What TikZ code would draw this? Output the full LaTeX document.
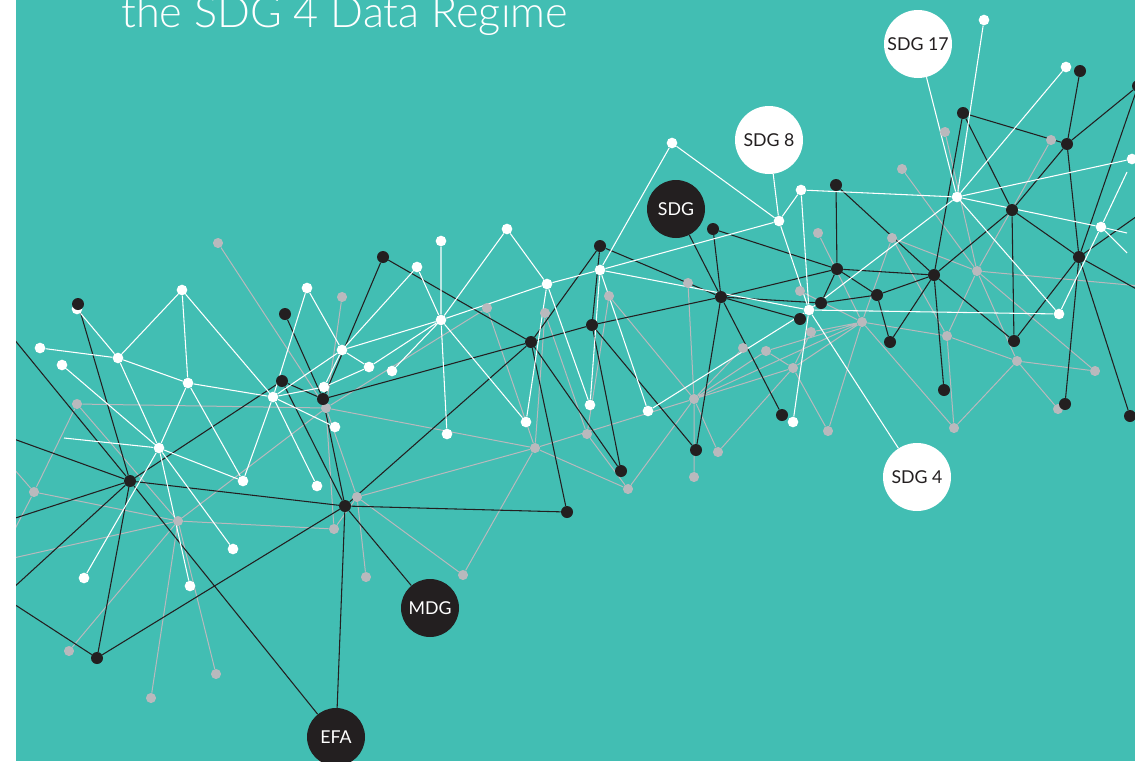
\documentclass[tikz,border=0pt]{standalone}
\usepackage{fontspec}
\setmainfont{Lato}
\newfontfamily\titlefont{Lato Light}
\usepackage{graphicx}
\definecolor{teal1}{RGB}{66,190,179}
\definecolor{dk}{RGB}{35,31,32}
\definecolor{gr}{RGB}{185,185,189}
\pgfdeclarelayer{bgl}
\pgfdeclarelayer{ge}
\pgfdeclarelayer{be}
\pgfdeclarelayer{we}
\pgfsetlayers{bgl,ge,be,we,main}
\tikzset{
  wd/.style={circle,fill=white,inner sep=0,minimum size=8pt},
  bd/.style={circle,fill=dk,inner sep=0,minimum size=9pt},
  gd/.style={circle,fill=gr,inner sep=0,minimum size=7.6pt},
  gl/.style={draw=gr,line width=0.75pt},
  bl/.style={draw=dk,line width=0.8pt},
  wl/.style={draw=white,line width=0.8pt},
  lblk/.style={circle,fill=dk,text=white,inner sep=0,minimum size=43.5pt,font=\fontsize{13.3}{13.3}\selectfont},
  lwht/.style={circle,fill=white,text=dk,inner sep=0,minimum size=51pt,font=\fontsize{13.3}{13.3}\selectfont},
}
\begin{document}
\begin{tikzpicture}[x=0.75pt,y=-0.75pt]
\useasboundingbox (0,0) rectangle (1135,761);
\begin{pgfonlayer}{bgl}
\fill[teal1] (0,0) rectangle (1135,761);
\end{pgfonlayer}
% white nodes
\node[wd] (w1) at (77,309) {};
\node[wd] (w2) at (40,348) {};
\node[wd] (w3) at (118,358) {};
\node[wd] (w4) at (62,365) {};
\node[wd] (w5) at (182,290) {};
\node[wd] (w6) at (188,383) {};
\node[wd] (w7) at (159,448) {};
\node[wd] (w8) at (243,481) {};
\node[wd] (w9) at (273,397) {};
\node[wd] (w10) at (307,288) {};
\node[wd] (w11) at (342,350) {};
\node[wd] (w12) at (324,387) {};
\node[wd] (w13) at (369,367) {};
\node[wd] (w14) at (335,427) {};
\node[wd] (w15) at (317,486) {};
\node[wd] (w16) at (84,578) {};
\node[wd] (w17) at (190,586) {};
\node[wd] (w18) at (233,549) {};
\node[wd] (w19) at (441,241) {};
\node[wd] (w20) at (417,267) {};
\node[wd] (w21) at (441,320) {};
\node[wd] (w22) at (392,371) {};
\node[wd] (w23) at (447,434) {};
\node[wd] (w24) at (507,229) {};
\node[wd] (w25) at (547,284) {};
\node[wd] (w26) at (526,422) {};
\node[wd] (w27) at (600,270) {};
\node[wd] (w28) at (590,405) {};
\node[wd] (w29) at (648,411) {};
\node[wd] (w30) at (672,143) {};
\node[wd] (w31) at (779,221) {};
\node[wd] (w32) at (801,190) {};
\node[wd] (w33) at (809,310) {};
\node[wd] (w34) at (793,422) {};
\node[wd] (w35) at (957,197) {};
\node[wd] (w36) at (984,20) {};
\node[wd] (w37) at (1066,67) {};
\node[wd] (w38) at (1132,159) {};
\node[wd] (w39) at (1101,227) {};
\node[wd] (w40) at (1059,314) {};
\coordinate (wf1) at (64,438);
\coordinate (wf2) at (1127,172);
\coordinate (wf3) at (1127,253);
\coordinate (wf4) at (1127,233);
% gray nodes
\node[gd] (g1) at (218,243) {};
\node[gd] (g2) at (342,297) {};
\node[gd] (g3) at (77,404) {};
\node[gd] (g4) at (326,408) {};
\node[gd] (g5) at (34,492) {};
\node[gd] (g6) at (178,521) {};
\node[gd] (g7) at (357,497) {};
\node[gd] (g8) at (334,529) {};
\node[gd] (g9) at (366,577) {};
\node[gd] (g10) at (463,575) {};
\node[gd] (g11) at (69,651) {};
\node[gd] (g12) at (216,674) {};
\node[gd] (g13) at (151,698) {};
\node[gd] (g14) at (487,308) {};
\node[gd] (g15) at (545,313) {};
\node[gd] (g16) at (609,296) {};
\node[gd] (g17) at (535,448) {};
\node[gd] (g18) at (587,434) {};
\node[gd] (g19) at (628,489) {};
\node[gd] (g20) at (694,399) {};
\node[gd] (g21) at (694,477) {};
\node[gd] (g22) at (688,283) {};
\node[gd] (g23) at (718,452) {};
\node[gd] (g24) at (743,348) {};
\node[gd] (g25) at (766,351) {};
\node[gd] (g26) at (793,368) {};
\node[gd] (g27) at (811,332) {};
\node[gd] (g28) at (800,291) {};
\node[gd] (g29) at (818,233) {};
\node[gd] (g30) at (828,431) {};
\node[gd] (g31) at (862,322) {};
\node[gd] (g32) at (892,238) {};
\node[gd] (g33) at (902,169) {};
\node[gd] (g34) at (945,132) {};
\node[gd] (g35) at (977,271) {};
\node[gd] (g36) at (1051,140) {};
\node[gd] (g37) at (947,336) {};
\node[gd] (g38) at (954,428) {};
\node[gd] (g39) at (1017,361) {};
\node[gd] (g40) at (1095,371) {};
\node[gd] (g41) at (1058,409) {};
\coordinate (gf1) at (0,453);
\coordinate (gf2) at (0,558);
\coordinate (gf3) at (0,561);
\coordinate (gf4) at (1140,286);
% black nodes
\node[bd] (b1) at (78,304) {};
\node[bd] (b2) at (130,481) {};
\node[bd] (b3) at (97,658) {};
\node[bd] (b4) at (285,314) {};
\node[bd] (b5) at (282,381) {};
\node[bd] (b6) at (323,399) {};
\node[bd] (b7) at (345,506) {};
\node[bd] (b8) at (383,257) {};
\node[bd] (b9) at (531,342) {};
\node[bd] (b10) at (567,512) {};
\node[bd] (b11) at (600,246) {};
\node[bd] (b12) at (592,325) {};
\node[bd] (b13) at (621,471) {};
\node[bd] (b14) at (696,450) {};
\node[bd] (b15) at (713,229) {};
\node[bd] (b16) at (721,297) {};
\node[bd] (b17) at (782,415) {};
\node[bd] (b18) at (800,319) {};
\node[bd] (b19) at (821,303) {};
\node[bd] (b20) at (836,185) {};
\node[bd] (b21) at (837,269) {};
\node[bd] (b22) at (877,295) {};
\node[bd] (b23) at (890,342) {};
\node[bd] (b24) at (934,275) {};
\node[bd] (b25) at (944,390) {};
\node[bd] (b26) at (963,113) {};
\node[bd] (b27) at (1012,210) {};
\node[bd] (b28) at (1014,341) {};
\node[bd] (b29) at (1067,144) {};
\node[bd] (b30) at (1080,71) {};
\node[bd] (b31) at (1079,257) {};
\node[bd] (b32) at (1065,404) {};
\node[bd] (b33) at (1130,416) {};
\node[bd] (b34) at (1138,86) {};
\coordinate (bf1) at (0,322);
\coordinate (bf2) at (0,434);
\coordinate (bf3) at (0,523);
\coordinate (bf4) at (0,600);
\coordinate (bf5) at (0,595);
\coordinate (bf6) at (1140,291);
\coordinate (bf7) at (1140,214);
% label circles
\node[lblk] (sdg) at (676,209) {SDG};
\node[lblk] (mdg) at (430,608) {MDG};
\node[lblk] (efa) at (336,737) {EFA};
\node[lwht] (sdg8) at (769,140) {SDG 8};
\node[lwht] (sdg17) at (918,44) {SDG 17};
\node[lwht] (sdg4) at (917,477) {SDG 4};
% title
\node[anchor=base west,inner sep=0,text=white] (title) at (121,27) {\resizebox{335pt}{!}{\titlefont\fontsize{30}{30}\selectfont the SDG 4 Data Regime}};
% gray edges
\begin{pgfonlayer}{ge}
\draw[gl] (g1)--(g4) (g2)--(g4) (g3)--(g4) (g4)--(g17) (g3)--(g5) (g3)--(g6)
 (g5)--(g6) (g5)--(gf1) (g5)--(gf2) (g6)--(gf3) (g6)--(g4) (g6)--(g8) (g6)--(g11)
 (g6)--(g13) (g6)--(g12) (g4)--(g8) (g7)--(g8) (g7)--(g9) (g7)--(g10) (g7)--(g17)
 (g4)--(g7) (g4)--(g14) (g14)--(g17) (g15)--(g17) (g15)--(g18) (g16)--(g18)
 (g16)--(g20) (g17)--(g20) (g18)--(g19) (g17)--(g19) (g17)--(g10) (g19)--(g20)
 (g20)--(g21) (g20)--(g22) (g20)--(g23) (g20)--(g24) (g20)--(g25) (g20)--(g31)
 (g20)--(g26) (g23)--(g26) (g26)--(g25) (g26)--(g27) (g26)--(g30) (g26)--(g31)
 (g25)--(g31) (g31)--(g30) (g31)--(g29) (g31)--(g32) (g31)--(g37) (g31)--(g38)
 (g31)--(g27) (g28)--(g31) (g32)--(g35) (g33)--(g35) (g34)--(g35) (g35)--(g37)
 (g35)--(g39) (g35)--(g40) (g35)--(g36) (g35)--(gf4) (g32)--(g37) (g37)--(g38)
 (g37)--(g39) (g39)--(g38) (g39)--(g40) (g39)--(g41);
\end{pgfonlayer}
% black edges
\begin{pgfonlayer}{be}
\draw[bl] (b1)--(b2) (bf1)--(b2) (bf2)--(b2) (b2)--(b5) (b5)--(b6) (b5)--(b7)
 (b4)--(b6) (b8)--(b6) (b8)--(b9) (b6)--(b9) (b6)--(b7) (b2)--(b7) (bf3)--(b2)
 (bf4)--(b2) (b2)--(b3) (b2)--(efa) (bf5)--(b3) (b3)--(b7) (b7)--(efa) (b7)--(mdg)
 (b7)--(b9) (b7)--(b10) (b9)--(b11) (b9)--(b13) (b9)--(b10) (b9)--(b12)
 (b12)--(b11) (b12)--(b13) (b12)--(b14) (b12)--(b16) (b11)--(b16) (sdg)--(b16)
 (b15)--(b16) (b15)--(b21) (b16)--(b21) (b16)--(b19) (b19)--(b22) (b16)--(b18)
 (b16)--(b14) (b16)--(b17) (b21)--(b20) (b20)--(b24) (b21)--(b24) (b21)--(b22)
 (b21)--(b19) (b22)--(b24) (b22)--(b23) (b23)--(b24) (b24)--(b25) (b24)--(b27)
 (b24)--(b28) (b24)--(b26) (b26)--(b29) (b26)--(b27) (b27)--(b29) (b27)--(b28)
 (b27)--(b31) (b31)--(b28) (b31)--(b29) (b29)--(b30) (b29)--(b34) (b31)--(b34)
 (b31)--(b32) (b31)--(b33) (b31)--(bf6) (b31)--(bf7);
\end{pgfonlayer}
% white edges
\begin{pgfonlayer}{we}
\draw[wl] (w1)--(w3) (w2)--(w3) (w3)--(w5) (w3)--(w6) (w3)--(w7) (w4)--(w7)
 (w5)--(w6) (w5)--(w9) (w6)--(w9) (w6)--(w7) (w6)--(w8) (w7)--(w8) (w9)--(w8)
 (w9)--(w10) (w10)--(w11) (w9)--(w11) (w9)--(w12) (w9)--(w14) (w9)--(w15)
 (w12)--(w13) (w11)--(w13) (w11)--(w12) (w11)--(w21) (wf1)--(w7) (w7)--(w16)
 (w7)--(w17) (w7)--(w18) (w24)--(w21) (w24)--(w25) (w19)--(w21) (w20)--(w21)
 (w20)--(w11) (w21)--(w13) (w21)--(w22) (w21)--(w25) (w21)--(w26) (w21)--(w23)
 (w25)--(w27) (w25)--(w26) (w25)--(w28) (w27)--(w28) (w27)--(w29) (w27)--(w30)
 (w27)--(w31) (w27)--(w33) (w30)--(w31) (w31)--(sdg8) (w31)--(w32) (w31)--(w33)
 (w32)--(w33) (w33)--(w34) (w32)--(w35) (w29)--(w33) (w33)--(w35) (w33)--(w40)
 (w33)--(sdg4) (sdg17)--(w35) (w36)--(w35) (w37)--(w35) (w35)--(w38) (w35)--(w39)
 (w39)--(wf4) (w35)--(w40) (w40)--(w39) (w39)--(wf2) (w39)--(wf3);
\end{pgfonlayer}
\fill[white] (0,0) rectangle (16,761);
\end{tikzpicture}
\end{document}
